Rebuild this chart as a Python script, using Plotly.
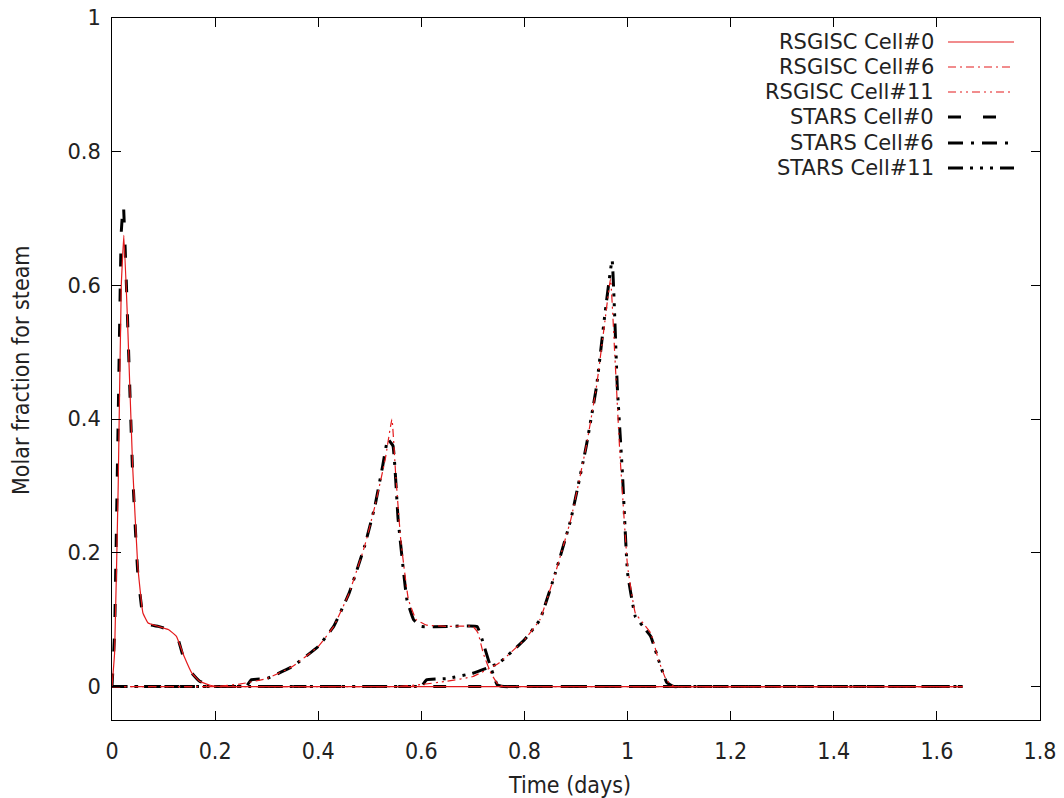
import plotly.graph_objects as go

# ---------------- data ----------------
x_tick_vals = [0, 0.2, 0.4, 0.6, 0.8, 1.0, 1.2, 1.4, 1.6, 1.8]
y_tick_vals = [0, 0.2, 0.4, 0.6, 0.8, 1.0]

rsg_c0_x = [0, 0.005, 0.012, 0.018, 0.023, 0.03, 0.04, 0.05, 0.06, 0.07, 0.09, 0.11, 0.125, 0.14, 0.155, 0.17, 0.19, 0.21, 0.23, 0.4, 0.8, 1.2, 1.65]
rsg_c0_y = [0, 0.05, 0.3, 0.6, 0.675, 0.55, 0.33, 0.18, 0.11, 0.095, 0.09, 0.085, 0.075, 0.045, 0.02, 0.008, 0.002, 0, 0, 0, 0, 0, 0]

rsg_c6_x = [0, 0.1, 0.2, 0.25, 0.3, 0.35, 0.4, 0.43, 0.46, 0.49, 0.51, 0.53, 0.543, 0.55, 0.56, 0.575, 0.59, 0.61, 0.65, 0.7, 0.71, 0.72, 0.735, 0.75, 0.77, 0.8, 1.2, 1.65]
rsg_c6_y = [0, 0, 0, 0.004, 0.012, 0.03, 0.06, 0.09, 0.14, 0.21, 0.27, 0.34, 0.40, 0.32, 0.22, 0.13, 0.1, 0.092, 0.09, 0.09, 0.08, 0.05, 0.02, 0.002, 0, 0, 0, 0]

rsg_c11_x = [0, 0.3, 0.55, 0.6, 0.65, 0.7, 0.75, 0.8, 0.83, 0.86, 0.89, 0.92, 0.94, 0.955, 0.967, 0.975, 0.985, 1.0, 1.015, 1.03, 1.045, 1.06, 1.075, 1.09, 1.11, 1.2, 1.65]
rsg_c11_y = [0, 0, 0, 0.003, 0.008, 0.015, 0.035, 0.07, 0.1, 0.17, 0.25, 0.36, 0.45, 0.54, 0.61, 0.5, 0.35, 0.18, 0.11, 0.095, 0.08, 0.04, 0.01, 0, 0, 0, 0]

stars_c0_x = [0, 0.005, 0.012, 0.018, 0.022, 0.028, 0.04, 0.05, 0.06, 0.07, 0.09, 0.11, 0.125, 0.14, 0.155, 0.17, 0.19, 0.21, 0.23, 0.5, 1.0, 1.65]
stars_c0_y = [0, 0.08, 0.4, 0.68, 0.723, 0.6, 0.32, 0.17, 0.105, 0.093, 0.09, 0.085, 0.078, 0.04, 0.02, 0.008, 0.002, 0, 0, 0, 0, 0]

stars_c6_x = [0, 0.1, 0.25, 0.26, 0.27, 0.3, 0.35, 0.4, 0.43, 0.46, 0.49, 0.51, 0.525, 0.535, 0.545, 0.555, 0.572, 0.585, 0.6, 0.65, 0.708, 0.718, 0.73, 0.747, 0.76, 0.8, 1.2, 1.65]
stars_c6_y = [0, 0, 0, 0, 0.01, 0.012, 0.03, 0.06, 0.09, 0.14, 0.21, 0.27, 0.33, 0.37, 0.36, 0.25, 0.13, 0.1, 0.09, 0.09, 0.09, 0.07, 0.04, 0.003, 0, 0, 0, 0]

stars_c11_x = [0, 0.3, 0.59, 0.6, 0.61, 0.65, 0.7, 0.75, 0.8, 0.83, 0.86, 0.89, 0.92, 0.94, 0.955, 0.97, 0.98, 0.99, 1.0, 1.015, 1.03, 1.045, 1.06, 1.076, 1.09, 1.11, 1.3, 1.65]
stars_c11_y = [0, 0, 0, 0, 0.01, 0.012, 0.02, 0.035, 0.07, 0.1, 0.17, 0.25, 0.36, 0.45, 0.55, 0.638, 0.45, 0.32, 0.17, 0.105, 0.09, 0.075, 0.04, 0.006, 0, 0, 0, 0]

series_names = ["RSGISC Cell#0", "RSGISC Cell#6", "RSGISC Cell#11",
                "STARS Cell#0", "STARS Cell#6", "STARS Cell#11"]
x_title = "Time (days)"
y_title = "Molar fraction for steam"

# ---------------- styles ----------------
RED = "#e41a1c"
styles = [
    dict(color=RED, width=1.2, dash="solid"),
    dict(color=RED, width=1.2, dash="8px,4px,2px,4px"),
    dict(color=RED, width=1.2, dash="8px,4px,2px,4px,2px,4px"),
    dict(color="black", width=3, dash="13px,22px"),
    dict(color="black", width=3, dash="15px,8px,3px,8px"),
    dict(color="black", width=3, dash="15px,7px,3px,7px,3px,7px,3px,7px"),
]
data = [(rsg_c0_x, rsg_c0_y), (rsg_c6_x, rsg_c6_y), (rsg_c11_x, rsg_c11_y),
        (stars_c0_x, stars_c0_y), (stars_c6_x, stars_c6_y), (stars_c11_x, stars_c11_y)]

fig = go.Figure()
order = [3, 4, 5, 0, 1, 2]
for i in order:
    xs, ys = data[i]
    fig.add_trace(go.Scatter(x=xs, y=ys, mode="lines", name=series_names[i],
                             line=dict(**styles[i], shape="spline", smoothing=0.3),
                             showlegend=False))

# body margin is removed by post_script, so figure pixels == screen pixels
W, H = 1064, 798
P_LEFT, P_RIGHT, P_TOP, P_BOTTOM = 112, 1040, 18, 720   # plot area on screen
L, R, T, B = P_LEFT, W - P_RIGHT, P_TOP, H - P_BOTTOM
pw, ph = W - L - R, H - T - B

def px_to_paper(sx, sy):
    return (sx - L) / pw, (H - B - sy) / ph

FONT = "DejaVu Sans, Noto Sans, sans-serif"
COND = "DejaVu Sans Condensed, Liberation Sans Narrow, DejaVu Sans, sans-serif"
TXT = "#222"

# gnuplot-style key: right-aligned text, sample to the right
row_y = [42, 67, 92, 117, 143, 168]
for i, name in enumerate(series_names):
    xt, yt = px_to_paper(936, row_y[i])
    fig.add_annotation(x=xt, y=yt, xref="paper", yref="paper", text=name,
                       showarrow=False, xanchor="right", yanchor="middle",
                       font=dict(family=FONT, size=21, color=TXT))
    x0, y0 = px_to_paper(948, row_y[i])
    x1, _ = px_to_paper(1014, row_y[i])
    fig.add_shape(type="line", xref="paper", yref="paper", x0=x0, x1=x1, y0=y0, y1=y0,
                  line=dict(color=styles[i]["color"], width=styles[i]["width"], dash=styles[i]["dash"]))

# axis titles
xa, ya = px_to_paper(569, 785)
fig.add_annotation(x=xa, y=ya, xref="paper", yref="paper", text=x_title, showarrow=False,
                   xanchor="center", yanchor="middle", font=dict(family=COND, size=23, color=TXT))
xa, ya = px_to_paper(21, 370)
fig.add_annotation(x=xa, y=ya, xref="paper", yref="paper", text=y_title, showarrow=False,
                   textangle=-90, xanchor="center", yanchor="middle",
                   font=dict(family=COND, size=23, color=TXT))

fig.update_layout(
    width=W, height=H,
    margin=dict(l=L, r=R, t=T, b=B),
    paper_bgcolor="white", plot_bgcolor="white",
    showlegend=False,
    xaxis=dict(range=[0, 1.8], tickvals=x_tick_vals, ticks="inside", ticklen=9,
               tickcolor="black", showline=True, linecolor="black", linewidth=1,
               mirror="ticks", showgrid=False, zeroline=False, automargin=False,
               ticklabelstandoff=10, ticklabeloverflow="allow",
               tickfont=dict(family=COND, size=23, color=TXT)),
    yaxis=dict(range=[-0.05, 1.0], tickvals=y_tick_vals, ticks="inside", ticklen=9,
               tickcolor="black", showline=True, linecolor="black", linewidth=1,
               mirror="ticks", showgrid=False, zeroline=False, automargin=False,
               ticklabelstandoff=6, ticklabeloverflow="allow",
               tickfont=dict(family=FONT, size=21, color=TXT)),
)

fig.write_html("out.html", config={"displayModeBar": False},
               post_script="document.body.style.margin='0';document.body.style.padding='0';"
                           "document.documentElement.style.overflow='hidden';")
